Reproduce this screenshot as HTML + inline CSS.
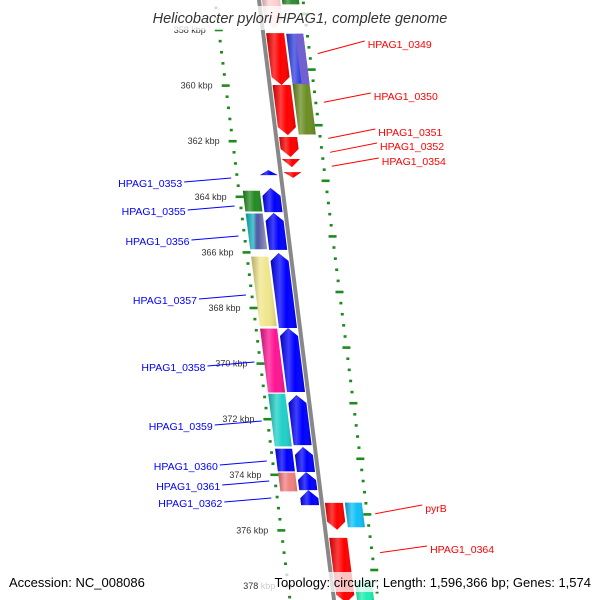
<!DOCTYPE html>
<html><head><meta charset="utf-8"><style>
html,body{margin:0;padding:0;background:#fff;}
svg{display:block;font-family:"Liberation Sans","DejaVu Sans",sans-serif;}
</style></head><body>
<svg id="map" width="600" height="600" viewBox="0 0 600 600">
<defs>
<linearGradient id="shade" x1="0" y1="0" x2="1" y2="0">
<stop offset="0" stop-color="#000" stop-opacity="0.25"/>
<stop offset="0.35" stop-color="#fff" stop-opacity="0.25"/>
<stop offset="0.6" stop-color="#fff" stop-opacity="0"/>
<stop offset="1" stop-color="#000" stop-opacity="0.15"/>
</linearGradient>
<linearGradient id="stripe" x1="0" y1="0" x2="1" y2="0">
<stop offset="0" stop-color="#00c8c8"/><stop offset="0.35" stop-color="#20b0c0"/>
<stop offset="0.5" stop-color="#4050a0"/><stop offset="0.75" stop-color="#7070b0"/>
<stop offset="1" stop-color="#b0b0c0"/>
</linearGradient>
</defs>
<g id="ticks"></g>
<line id="backbone" stroke="#888" stroke-width="4"/>
<g id="genes"></g>
<g id="labels"></g>
<rect x="140" y="6" width="320" height="24" fill="#fff" fill-opacity="0.75"/>
<text x="300" y="23" text-anchor="middle" font-size="14.5" font-style="italic" fill="#333">Helicobacter pylori HPAG1, complete genome</text>
<rect x="4" y="572" width="146" height="20" fill="#fff" fill-opacity="0.75"/>
<text x="9" y="587" font-size="13" fill="#000">Accession: NC_008086</text>
<rect x="258" y="572" width="338" height="20" fill="#fff" fill-opacity="0.75"/>
<text x="591" y="587" text-anchor="end" font-size="13" fill="#000">Topology: circular; Length: 1,596,366 bp; Genes: 1,574</text>
</svg>
<script>
// ---- data ----
const tickLabels = ["358 kbp","360 kbp","362 kbp","364 kbp","366 kbp","368 kbp","370 kbp","372 kbp","374 kbp","376 kbp","378 kbp"];
const labelKbp = [358,360,362,364,366,368,370,372,374,376,378];
// genes: start kbp, end kbp
const geneStart = [356.74,358.11,359.98,361.85,362.64,363.11, 363.04,363.68,364.58,366.02,368.72,371.13,373.0,373.9,374.55, 375.01,376.27];
const geneEnd   = [357.95,359.98,361.78,362.57,362.93,363.32, 363.22,364.55,365.91,368.72,371.02,372.93,373.9,374.55,375.09, 375.98,378.6];
const geneStrand= [1,1,1,1,1,1, -1,-1,-1,-1,-1,-1,-1,-1,-1, 1,1];
const geneColor = ["#ffd0d0","#ff0000","#ff0000","#ff0000","#ff0000","#ff0000", "#0000ff","#0000ff","#0000ff","#0000ff","#0000ff","#0000ff","#0000ff","#0000ff","#0000ff", "#ff0000","#ff0000"];
// COG ring boxes
const cogStart = [356.74,358.11,359.91, 363.76,364.58,366.13,368.72,371.06,373.04,373.9, 374.98,377.78];
const cogEnd   = [357.1,359.98,361.78, 364.55,365.91,368.68,371.06,373.0,373.9,374.62, 375.91,378.6];
const cogSide  = [1,1,1, -1,-1,-1,-1,-1,-1,-1, 1,1];
const cogColor = ["#2e8b2e","#3040e0","#6b8e23", "#228b22","url(#stripe)","#f0e68c","#ff1493","#20d0c8","#0000ff","#f08080", "#10c0f8","#20f0b0"];
// labels
const rightNames = ["HPAG1_0349","HPAG1_0350","HPAG1_0351","HPAG1_0352","HPAG1_0354","pyrB","HPAG1_0364"];
const rightKbp = [358.85,360.6,361.9,362.4,362.9,375.4,376.8];
const rightTextY = [44,96,132,146,161,508,549];
const leftNames = ["HPAG1_0353","HPAG1_0355","HPAG1_0356","HPAG1_0357","HPAG1_0358","HPAG1_0359","HPAG1_0360","HPAG1_0361","HPAG1_0362"];
const leftKbp = [363.3,364.3,365.4,367.55,370.0,372.1,373.55,374.25,374.85];
const leftTextY = [183,211,241,300,367,426,466,486,503];

// ---- axes ----
const ky = k => 30 + (k - 358) * 27.8;
const bx = y => 259 + 0.125 * y;
const NS = "http://www.w3.org/2000/svg";
function mk(tag, attrs, parent){const e=document.createElementNS(NS,tag);for(const a in attrs)e.setAttribute(a,attrs[a]);parent.appendChild(e);return e;}
const bb=document.getElementById('backbone');
bb.setAttribute('x1',bx(-10));bb.setAttribute('y1',-10);bb.setAttribute('x2',bx(610));bb.setAttribute('y2',610);

const tg=document.getElementById('ticks');
for(let i=-4;i<=52;i++){
  const kk=358+i*0.4;
  const major=(i%5===0);
  [[-44,0],[44,-16]].forEach(([o,dy])=>{
    const y=ky(kk)+dy;
    const cx=bx(y)+o;const w=major?8:3;
    const d=mk('rect',{x:cx-w/2,y:y-1.3,width:w,height:2.6,fill:'#1f8a1f'},tg);
    
    
  });
}
labelKbp.forEach((k,i)=>{
  const y=ky(k);
  const t=mk('text',{x:bx(y)-57,y:y+3,'text-anchor':'end','font-size':'9',fill:'#333'},tg);
  t.textContent=tickLabels[i];
  
  
});

const gg=document.getElementById('genes');
function poly(y1,y2,o1,o2,dir){
  const h=Math.min(8,y2-y1), m=(o1+o2)/2;
  let p;
  if(dir>0) p=[[o1,y1],[o2,y1],[o2,y2-h],[m,y2],[o1,y2-h]];
  else if(dir<0) p=[[m,y1],[o2,y1+h],[o2,y2],[o1,y2],[o1,y1+h]];
  else p=[[o1,y1],[o2,y1],[o2,y2],[o1,y2]];
  return p.map(q=>(bx(q[1])+q[0]).toFixed(1)+','+q[1].toFixed(1)).join(' ');
}
geneStart.forEach((s,i)=>{
  const y1=ky(s),y2=ky(geneEnd[i]);
  const dir=geneStrand[i];
  const o1=dir>0?3:-21,o2=dir>0?21:-3;
  const pts=poly(y1,y2,o1,o2,dir);
  const p=mk('polygon',{points:pts,fill:geneColor[i]},gg);
  
  
  mk('polygon',{points:pts,fill:'url(#shade)'},gg);
});
cogStart.forEach((s,i)=>{
  const y1=ky(s)+0.6,y2=ky(cogEnd[i])-0.6;
  const side=cogSide[i];
  const o1=side>0?23:-40,o2=side>0?40:-23;
  const pts=poly(y1,y2,o1,o2,0);
  const p=mk('polygon',{points:pts,fill:cogColor[i]},gg);
  
  
  mk('polygon',{points:pts,fill:'url(#shade)'},gg);
});
{const y1=ky(358.11)+0.6,y2=ky(359.98)-0.6;
 const p=mk('polygon',{points:poly(y1,y2,32,40,0),fill:'#7060d0'},gg);
 
 }

const lg=document.getElementById('labels');
rightNames.forEach((n,i)=>{
  const gy=ky(rightKbp[i]);const ty=rightTextY[i];
  const l=mk('line',{x1:bx(gy)+52,y1:gy,x2:bx(gy)+99,y2:ty-3,stroke:'#ff0000','stroke-width':1},lg);
  
  
  const t=mk('text',{x:bx(gy)+102,y:ty+4,'font-size':'10.5',fill:'#ff0000'},lg);
  t.textContent=n;
  
  
});
leftNames.forEach((n,i)=>{
  const gy=ky(leftKbp[i]);const ty=leftTextY[i];
  const x2=bx(gy)-50, x1=x2-47;
  const l=mk('line',{x1:x1,y1:ty-1,x2:x2,y2:ty-5,stroke:'#0000ff','stroke-width':1},lg);
  
  
  const t=mk('text',{x:x1-2,y:ty+4,'text-anchor':'end','font-size':'10.5',fill:'#0000ff'},lg);
  t.textContent=n;
  
  
});
</script>
</body></html>
